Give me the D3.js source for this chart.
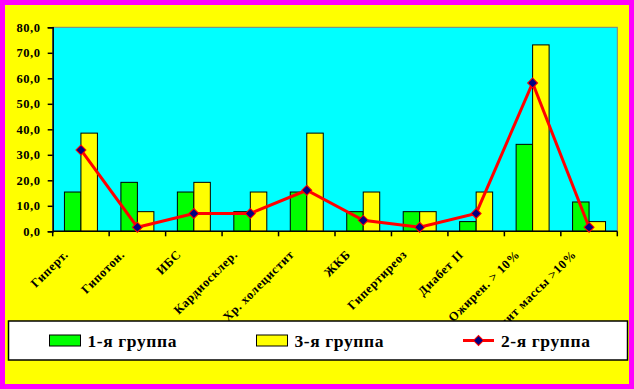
<!DOCTYPE html>
<html>
<head>
<meta charset="utf-8">
<script src="https://cdn.jsdelivr.net/npm/d3@7"></script>
<style>
  body { margin: 0; background: #ff00ff; }
  svg { display: block; }
  text { font-family: "Liberation Serif", "Times New Roman", serif; font-weight: bold; }
</style>
</head>
<body>
<div id="chart"></div>
<script>
const categories = ["Гиперт.", "Гипотон.", "ИБС", "Кардиосклер.", "Хр. холецистит",
  "ЖКБ", "Гипертиреоз", "Диабет II", "Ожирен. > 10%", "Дефицит массы >10%"];
const group1 = [15.4, 19.2, 15.4, 7.7, 15.4, 7.7, 7.7, 3.8, 34.1, 11.5];
const group3 = [38.5, 7.7, 19.2, 15.4, 38.5, 15.4, 7.7, 15.4, 73.1, 3.8];
const group2 = [31.9, 1.6, 7.0, 7.0, 16.1, 4.3, 1.6, 7.0, 58.2, 1.6];
const yTicks = [0, 10, 20, 30, 40, 50, 60, 70, 80];

const width = 634, height = 389;
const plot = { left: 52.7, top: 27.3, right: 617.3, bottom: 231.3 };

const svg = d3.select("#chart").append("svg")
  .attr("width", width).attr("height", height);

svg.append("rect").attr("width", width).attr("height", height).attr("fill", "#ff00ff");
svg.append("rect").attr("x", 5).attr("y", 5).attr("width", 624).attr("height", 379).attr("fill", "#ffff00");

const xScale = d3.scaleBand()
  .domain(categories)
  .range([plot.left, plot.right])
  .paddingInner(0.416)
  .paddingOuter(0.208);

const xSub = d3.scaleBand()
  .domain(["g1", "g3"])
  .range([0, xScale.bandwidth()]);

const yScale = d3.scaleLinear().domain([0, 80]).range([plot.bottom, plot.top]);

// plot area
svg.append("rect")
  .attr("x", plot.left).attr("y", plot.top)
  .attr("width", plot.right - plot.left).attr("height", plot.bottom - plot.top)
  .attr("fill", "#00ffff")
  .attr("stroke", "#808080").attr("stroke-width", 1);

// bars
const groups = svg.append("g").selectAll("g")
  .data(categories)
  .join("g")
  .attr("transform", (d) => `translate(${xScale(d)},0)`);

groups.append("rect")
  .attr("x", xSub("g1"))
  .attr("y", (d, i) => yScale(group1[i]))
  .attr("width", xSub.bandwidth())
  .attr("height", (d, i) => yScale(0) - yScale(group1[i]))
  .attr("fill", "#00ff00").attr("stroke", "black").attr("stroke-width", 1);

groups.append("rect")
  .attr("x", xSub("g3"))
  .attr("y", (d, i) => yScale(group3[i]))
  .attr("width", xSub.bandwidth())
  .attr("height", (d, i) => yScale(0) - yScale(group3[i]))
  .attr("fill", "#ffff00").attr("stroke", "black").attr("stroke-width", 1);

// y axis
const yAxis = svg.append("g")
  .attr("transform", `translate(${plot.left},0)`)
  .call(d3.axisLeft(yScale).tickValues(yTicks).tickSize(5).tickPadding(7)
    .tickFormat((d) => d3.format(".1f")(d).replace(".", ",")));
yAxis.select(".domain").attr("stroke", "black").attr("stroke-width", 1.5);
yAxis.selectAll(".tick line").attr("stroke", "black").attr("stroke-width", 1.5);
yAxis.selectAll("text")
  .attr("fill", "black")
  .style("font-size", "12.5px")
  .style("letter-spacing", "0.6px")
  .style("font-family", '"Liberation Serif", serif');

// x axis line and ticks at category boundaries
const xAxis = svg.append("g");
xAxis.append("line")
  .attr("x1", plot.left).attr("x2", plot.right)
  .attr("y1", plot.bottom).attr("y2", plot.bottom)
  .attr("stroke", "black").attr("stroke-width", 1.5);
const step = xScale.step();
const bounds = d3.range(categories.length + 1).map((i) => plot.left + i * step);
xAxis.selectAll(".xt")
  .data(bounds)
  .join("line")
  .attr("class", "xt")
  .attr("x1", (d) => d).attr("x2", (d) => d)
  .attr("y1", plot.bottom).attr("y2", plot.bottom + 5)
  .attr("stroke", "black").attr("stroke-width", 1.5);

// category labels
const center = (d) => xScale(d) + xScale.bandwidth() / 2;
svg.append("g").selectAll("text")
  .data(categories)
  .join("text")
  .attr("transform", (d) => `translate(${center(d) - 12},${plot.bottom + 24}) rotate(-45)`)
  .attr("text-anchor", "end")
  .style("font-size", "12.5px")
  .style("letter-spacing", "0.6px")
  .text((d) => d);

// line series
const line = d3.line()
  .x((d, i) => center(categories[i]))
  .y((d) => yScale(d));

svg.append("path")
  .datum(group2)
  .attr("d", line)
  .attr("fill", "none")
  .attr("stroke", "#ff0000")
  .attr("stroke-width", 3);

const diamond = d3.symbol().type(d3.symbolSquare).size(50);
svg.append("g").selectAll("path")
  .data(group2)
  .join("path")
  .attr("d", diamond)
  .attr("transform", (d, i) => `translate(${center(categories[i])},${yScale(d)}) rotate(45)`)
  .attr("fill", "#000080")
  .attr("stroke", "#ff0000")
  .attr("stroke-width", 1);

// legend
const legend = svg.append("g");
legend.append("rect")
  .attr("x", 8.5).attr("y", 321).attr("width", 619).attr("height", 39)
  .attr("fill", "white").attr("stroke", "black").attr("stroke-width", 1.5);

const legendItems = [
  { label: "1-я группа", kind: "bar", color: "#00ff00", x: 49.5 },
  { label: "3-я группа", kind: "bar", color: "#ffff00", x: 256.5 },
  { label: "2-я группа", kind: "line", color: "#ff0000", x: 463 },
];

legendItems.forEach((it) => {
  if (it.kind === "bar") {
    legend.append("rect")
      .attr("x", it.x).attr("y", 335).attr("width", 31).attr("height", 11)
      .attr("fill", it.color).attr("stroke", "black").attr("stroke-width", 1);
  } else {
    legend.append("line")
      .attr("x1", it.x).attr("x2", it.x + 31).attr("y1", 340.5).attr("y2", 340.5)
      .attr("stroke", it.color).attr("stroke-width", 3);
    legend.append("path")
      .attr("d", diamond)
      .attr("transform", `translate(${it.x + 15.5},340.5) rotate(45)`)
      .attr("fill", "#000080").attr("stroke", "#ff0000").attr("stroke-width", 1);
  }
  legend.append("text")
    .attr("x", it.x + 38).attr("y", 347)
    .style("font-size", "17.5px")
    .style("letter-spacing", "0.6px")
    .text(it.label);
});
</script>
</body>
</html>
